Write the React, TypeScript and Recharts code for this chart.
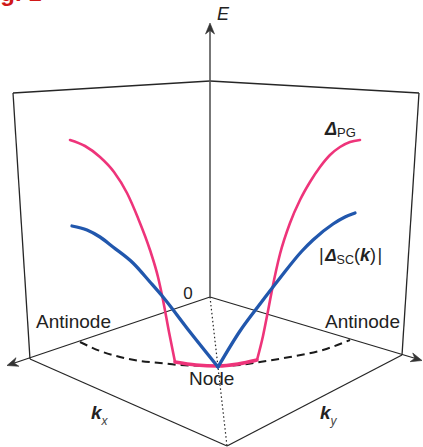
import React from 'react';
import { ComposedChart, Line, XAxis, YAxis, ReferenceLine, ReferenceDot } from 'recharts';

type Pt = { x: number; y: number };

const pseudogapLeft: Pt[] = [
  { x: 70, y: 140 }, { x: 85, y: 146 }, { x: 100, y: 157 }, { x: 114, y: 172 },
  { x: 127, y: 193 }, { x: 138, y: 218 }, { x: 150, y: 250 }, { x: 158, y: 277 },
  { x: 163, y: 300 }, { x: 169, y: 332 }, { x: 175, y: 362 },
];
const pseudogapArc: Pt[] = [
  { x: 175, y: 362 }, { x: 196, y: 365 }, { x: 218, y: 366 }, { x: 238, y: 364 }, { x: 257, y: 360 },
];
const pseudogapRight: Pt[] = [
  { x: 257, y: 360 }, { x: 263, y: 336 }, { x: 268, y: 311 }, { x: 272, y: 290 },
  { x: 280, y: 254 }, { x: 290, y: 223 }, { x: 300, y: 200 }, { x: 310, y: 182 },
  { x: 320, y: 167 }, { x: 330, y: 155 }, { x: 340, y: 147 }, { x: 350, y: 142 }, { x: 360, y: 140 },
];
const scGapLeft: Pt[] = [
  { x: 72, y: 226 }, { x: 87, y: 230 }, { x: 100, y: 237 }, { x: 113, y: 247 },
  { x: 133, y: 263 }, { x: 150, y: 282 }, { x: 163, y: 297 }, { x: 190, y: 332 }, { x: 218, y: 367 },
];
const scGapRight: Pt[] = [
  { x: 218, y: 367 }, { x: 240, y: 331 }, { x: 260, y: 304 }, { x: 280, y: 278 },
  { x: 302, y: 251 }, { x: 313, y: 240 }, { x: 333, y: 224 }, { x: 345, y: 217 }, { x: 355, y: 213 },
];
const fermiArc: Pt[] = [
  { x: 80, y: 342 }, { x: 100, y: 351 }, { x: 120, y: 357 }, { x: 140, y: 361 },
  { x: 160, y: 363 }, { x: 180, y: 365 }, { x: 218, y: 366 }, { x: 240, y: 365 },
  { x: 260, y: 362 }, { x: 290, y: 357 }, { x: 323, y: 350 }, { x: 350, y: 340 },
];

const W = 423;
const H = 447;
const INK = '#262626';
const AXIS = '#555';
const PINK = '#ee347a';
const BLUE = '#2157ad';
const FONT = '"Liberation Sans", Arial, Helvetica, sans-serif';

const seg = (a: Pt, b: Pt, props: any = {}) => (
  <ReferenceLine
    segment={[a, b]}
    stroke={INK}
    strokeWidth={1.3}
    ifOverflow="visible"
    {...props}
  />
);

const arrow = (x: number, y: number, angle: number) => (
  <ReferenceDot
    x={x}
    y={y}
    r={1}
    ifOverflow="visible"
    shape={(p: any) => (
      <polygon
        points="0,0 -11,-4.5 -7.5,0 -11,4.5"
        transform={`translate(${p.cx},${p.cy}) rotate(${angle})`}
        fill="#333"
        stroke="#333"
        strokeWidth={0.6}
        strokeLinejoin="round"
      />
    )}
  />
);

const label = (x: number, y: number, content: React.ReactNode, extra: any = {}) => (
  <ReferenceDot
    x={x}
    y={y}
    r={1}
    ifOverflow="visible"
    shape={(p: any) => (
      <text x={p.cx} y={p.cy} fontFamily={FONT} fill="#222" fontSize={19} {...extra}>
        {content}
      </text>
    )}
  />
);

const series = (data: Pt[], color: string, width: number, dash?: string) => (
  <Line
    data={data}
    dataKey="y"
    type="monotone"
    stroke={color}
    strokeWidth={width}
    strokeDasharray={dash}
    strokeLinecap={dash ? 'butt' : 'round'}
    dot={false}
    activeDot={false}
    isAnimationActive={false}
  />
);

export default function App() {
  return (
    <div style={{ position: 'absolute', left: 0, top: 0, width: W, height: H, background: '#fff' }}>
      <ComposedChart width={W} height={H} margin={{ top: 0, right: 0, bottom: 0, left: 0 }}>
        <XAxis dataKey="x" type="number" domain={[0, W]} hide allowDataOverflow />
        <YAxis type="number" domain={[0, H]} reversed hide allowDataOverflow />

        {/* back walls */}
        {seg({ x: 13, y: 93 }, { x: 210, y: 81 })}
        {seg({ x: 210, y: 81 }, { x: 419, y: 93 })}
        {seg({ x: 13, y: 93 }, { x: 30, y: 359 })}
        {seg({ x: 419, y: 93 }, { x: 402, y: 355 })}
        {/* floor */}
        {seg({ x: 210, y: 297 }, { x: 10, y: 364.5 })}
        {seg({ x: 210, y: 297 }, { x: 419, y: 359.5 })}
        {seg({ x: 30, y: 359 }, { x: 227, y: 446 })}
        {seg({ x: 402, y: 355 }, { x: 227, y: 446 })}
        {seg({ x: 210, y: 297 }, { x: 227, y: 446 }, { strokeDasharray: '1.5 2.5', strokeWidth: 1.2 })}
        {/* energy axis */}
        {seg({ x: 210, y: 297 }, { x: 210, y: 30 }, { stroke: AXIS, strokeWidth: 1.6 })}
        {arrow(210, 23, -90)}
        {arrow(7, 365.5, 161.4)}
        {arrow(422, 360.5, 16.6)}

        {series(fermiArc, '#1a1a1a', 2, '8 5')}
        {series(pseudogapLeft, PINK, 2.6)}
        {series(pseudogapRight, PINK, 2.6)}
        {series(pseudogapArc, PINK, 3.4)}
        {series(scGapLeft, BLUE, 3.3)}
        {series(scGapRight, BLUE, 3.3)}

        {label(0, 1, 'Fig. 1', { fill: '#d01818', fontSize: 24, fontWeight: 'bold', dx: -21 })}
        {label(217, 20, 'E', { fontStyle: 'italic', fontSize: 18 })}
        {label(188, 299, '0', { textAnchor: 'middle', fontSize: 17 })}
        {label(36, 328, 'Antinode')}
        {label(325, 328, 'Antinode')}
        {label(189, 385, 'Node')}
        {label(
          325,
          135,
          <>
            <tspan fontWeight="bold" fontStyle="italic" fontSize={18}>Δ</tspan>
            <tspan fontSize={13} dy={2}>PG</tspan>
          </>
        )}
        {label(
          319,
          261,
          <>
            <tspan fontSize={18}>|</tspan>
            <tspan fontWeight="bold" fontStyle="italic" fontSize={17} dx={1.5}>Δ</tspan>
            <tspan fontSize={12.5} dy={2.5}>SC</tspan>
            <tspan fontSize={18} dy={-2.5}>(</tspan>
            <tspan fontWeight="bold" fontStyle="italic" fontSize={18}>k</tspan>
            <tspan fontSize={18}>)</tspan>
            <tspan fontSize={18} dx={1.5}>|</tspan>
          </>
        )}
        {label(
          91,
          419,
          <>
            <tspan fontWeight="bold" fontStyle="italic" fontSize={19}>k</tspan>
            <tspan fontStyle="italic" fontSize={12} dy={6} fill="#444">x</tspan>
          </>
        )}
        {label(
          320,
          419,
          <>
            <tspan fontWeight="bold" fontStyle="italic" fontSize={19}>k</tspan>
            <tspan fontStyle="italic" fontSize={12} dy={6} fill="#444">y</tspan>
          </>
        )}
      </ComposedChart>
    </div>
  );
}
